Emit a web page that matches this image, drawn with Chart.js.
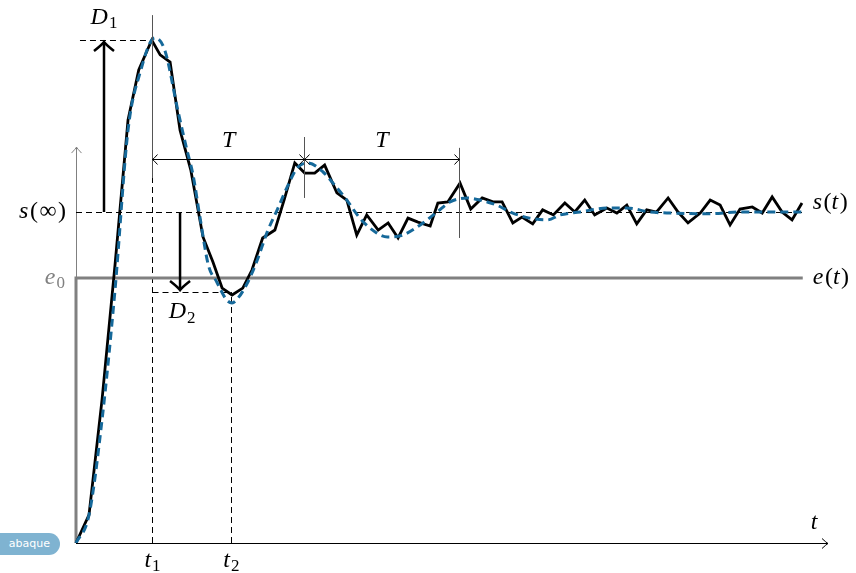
<!DOCTYPE html>
<html>
<head>
<meta charset="utf-8">
<script src="https://cdn.jsdelivr.net/npm/chart.js@4.4.1/dist/chart.umd.min.js"></script>
<style>
    html, body { margin: 0; padding: 0; background: #fff; overflow: hidden; }
    #wrap { position: relative; width: 856px; height: 573px; }
    .badge {
        position: absolute; left: -12px; top: 533px; width: 72px; height: 22px;
        box-sizing: border-box; padding-right: 10px; border-radius: 11px;
        background: #7fb3d1; color: #fff; text-align: right;
        font: 11px "DejaVu Sans", sans-serif; line-height: 22px;
    }
</style>
</head>
<body>
<div id="wrap">
    <canvas id="chart"></canvas>
    <div class="badge">abaque</div>
</div>
<script>
var sigT = [0, 0.17, 0.34, 0.51, 0.68, 0.82, 0.99, 1.10, 1.23, 1.36, 1.50, 1.66, 1.79, 1.91, 2.04,
    2.18, 2.30, 2.44, 2.60, 2.72, 2.86, 2.99, 3.12, 3.25, 3.41, 3.54, 3.67, 3.80, 3.95, 4.08,
    4.21, 4.34, 4.47, 4.63, 4.73, 4.86, 5.02, 5.16, 5.31, 5.45, 5.57, 5.71, 5.83, 5.97, 6.10,
    6.24, 6.39, 6.52, 6.65, 6.78, 6.94, 7.07, 7.20, 7.33, 7.46, 7.59, 7.74, 7.87, 8.00, 8.16,
    8.29, 8.42, 8.55, 8.68, 8.84, 8.97, 9.10, 9.23, 9.36, 9.49];
var sigV = [0, 0.106, 0.540, 1.049, 1.596, 1.785, 1.898, 1.842, 1.815, 1.558, 1.408, 1.155, 1.060, 0.962, 0.936,
    0.962, 1.030, 1.151, 1.181, 1.294, 1.434, 1.396, 1.396, 1.426, 1.321, 1.294, 1.162, 1.238, 1.181, 1.208,
    1.151, 1.226, 1.211, 1.196, 1.283, 1.287, 1.358, 1.260, 1.302, 1.287, 1.287, 1.208, 1.230, 1.204, 1.257,
    1.238, 1.283, 1.249, 1.294, 1.238, 1.264, 1.245, 1.275, 1.204, 1.257, 1.249, 1.302, 1.249, 1.208, 1.245,
    1.294, 1.275, 1.200, 1.260, 1.268, 1.245, 1.306, 1.249, 1.219, 1.283];

// second order model (blue dashed)
var modelT = [0, 0.17, 0.34, 0.51, 0.68, 0.84, 1.03, 1.16, 1.33, 1.45, 1.53, 1.62, 1.73, 1.84, 1.97,
    2.04, 2.12, 2.24, 2.37, 2.50, 2.63, 2.76, 2.89, 3.03, 3.23, 3.36, 3.54, 3.71, 3.93, 4.07,
    4.27, 4.50, 4.72, 4.89, 5.11, 5.28, 5.50, 5.71, 5.93, 6.16, 6.33, 6.59, 6.94, 7.20, 7.50,
    7.80, 8.25, 8.68, 9.11, 9.49];
var modelV = [0, 0.106, 0.464, 0.955, 1.558, 1.777, 1.906, 1.860, 1.634, 1.483, 1.389, 1.230, 1.049, 0.985, 0.917,
    0.906, 0.925, 0.981, 1.068, 1.174, 1.257, 1.343, 1.415, 1.434, 1.400, 1.358, 1.294, 1.226, 1.170, 1.155,
    1.162, 1.200, 1.249, 1.287, 1.302, 1.294, 1.275, 1.245, 1.226, 1.219, 1.238, 1.249, 1.264, 1.264, 1.249,
    1.245, 1.242, 1.249, 1.249, 1.249];

// input step e(t)
var stepT = [0, 0, 9.50];
var stepV = [0, 1, 1];

// reading marks
var E0 = 1;
var S_INF = 1.249;
var T_END = 9.50;
var T1 = 1.0;
var T2 = 2.03;
var PEAK2 = 2.99;
var PEAK3 = 5.01;
var D1_LEVEL = 1.898;
var D2_LEVEL = 0.947;
var D1_AT = 0.366;
var D2_AT = 1.36;
var T_LEVEL = 1.449;
var XAXIS_END = 9.83;
var YAXIS_TOP = 1.494;

function pts(ts, vs) {
    return ts.map(function (t, i) { return { x: t, y: vs[i] }; });
}

// thin lines snapped to the pixel grid so they stay crisp
function snap(v) { return Math.round(v - 0.5) + 0.5; }

function line(ctx, x1, y1, x2, y2) {
    if (ctx.lineWidth <= 1) {
        if (x1 === x2) { x1 = x2 = snap(x1); }
        if (y1 === y2) { y1 = y2 = snap(y1); }
    }
    ctx.beginPath();
    ctx.moveTo(x1, y1);
    ctx.lineTo(x2, y2);
    ctx.stroke();
}

// tikz-like "to" arrow head, tip at (x,y), pointing along angle a
function head(ctx, x, y, a, len, half) {
    ctx.save();
    ctx.translate(x, y);
    ctx.rotate(a);
    ctx.setLineDash([]);
    ctx.beginPath();
    ctx.moveTo(-len, -half);
    ctx.quadraticCurveTo(-len * 0.25, -half * 0.15, 0, 0);
    ctx.quadraticCurveTo(-len * 0.25, half * 0.15, -len, half);
    ctx.stroke();
    ctx.restore();
}

function mathText(ctx, parts, x, y, align, color) {
    var size = 24;
    var font = function (k) {
        if (k === 'i') return 'italic ' + size + 'px "Liberation Serif"';
        if (k === 's') return Math.round(size * 0.7) + 'px "Liberation Serif"';
        return size + 'px "Liberation Serif"';
    };
    var gap = function (k) { return k === 's' ? 1 : k === 'r' ? 1.5 : 0; };
    var w = 0;
    parts.forEach(function (p) { ctx.font = font(p[1]); w += ctx.measureText(p[0]).width + gap(p[1]); });
    var cx = align === 'right' ? x - w : align === 'center' ? x - w / 2 : x;
    ctx.fillStyle = color || '#000';
    ctx.textBaseline = 'middle';
    ctx.textAlign = 'left';
    parts.forEach(function (p) {
        ctx.font = font(p[1]);
        cx += gap(p[1]);
        ctx.fillText(p[0], cx, p[1] === 's' ? y + 6 : y);
        cx += ctx.measureText(p[0]).width;
    });
}

var guides = {
    id: 'guides',
    beforeDatasetsDraw: function (chart) {
        var ctx = chart.ctx, x = chart.scales.x, y = chart.scales.y;
        var X = function (v) { return x.getPixelForValue(v); };
        var Y = function (v) { return y.getPixelForValue(v); };
        ctx.save();
        // thin gray vertical axis
        ctx.strokeStyle = '#808080';
        ctx.lineWidth = 1;
        line(ctx, X(0), Y(0), X(0), Y(YAXIS_TOP));
        head(ctx, snap(X(0)), Y(YAXIS_TOP), -Math.PI / 2, 6, 5);

        // dashed reading lines
        ctx.strokeStyle = '#000';
        ctx.setLineDash([6, 4]);
        line(ctx, X(0), Y(S_INF), X(T_END), Y(S_INF));
        line(ctx, X(T1), Y(0), X(T1), Y(D1_LEVEL));
        line(ctx, X(0.052), Y(D1_LEVEL), X(T1), Y(D1_LEVEL));
        line(ctx, X(T1), Y(D2_LEVEL), X(T2), Y(D2_LEVEL));
        line(ctx, X(T2), Y(0), X(T2), Y(D2_LEVEL));
        ctx.restore();
    },
    afterDatasetsDraw: function (chart) {
        var ctx = chart.ctx, x = chart.scales.x, y = chart.scales.y;
        var X = function (v) { return x.getPixelForValue(v); };
        var Y = function (v) { return y.getPixelForValue(v); };
        ctx.save();

        // time axis
        ctx.strokeStyle = '#000';
        ctx.lineWidth = 1;
        line(ctx, X(0), Y(0), X(XAXIS_END), Y(0));
        head(ctx, X(XAXIS_END), snap(Y(0)), 0, 6, 5);

        // period marks
        ctx.strokeStyle = '#555';
        line(ctx, X(T1), Y(1.992), X(T1), Y(1.377));
        line(ctx, X(PEAK2), Y(1.532), X(PEAK2), Y(1.302));
        line(ctx, X(PEAK3), Y(1.491), X(PEAK3), Y(1.151));
        ctx.strokeStyle = '#000';
        line(ctx, X(T1), Y(T_LEVEL), X(PEAK3), Y(T_LEVEL));
        var ty = snap(Y(T_LEVEL));
        head(ctx, snap(X(T1)), ty, Math.PI, 5, 5);
        head(ctx, snap(X(PEAK2)), ty, 0, 5, 5);
        head(ctx, snap(X(PEAK2)), ty, Math.PI, 5, 5);
        head(ctx, snap(X(PEAK3)), ty, 0, 5, 5);

        // overshoot arrows
        ctx.lineWidth = 2.5;
        line(ctx, X(D1_AT), Y(S_INF), X(D1_AT), Y(D1_LEVEL) + 2);
        head(ctx, X(D1_AT), Y(D1_LEVEL) + 2, -Math.PI / 2, 9, 10);
        line(ctx, X(D2_AT), Y(S_INF), X(D2_AT), Y(D2_LEVEL) - 2);
        head(ctx, X(D2_AT), Y(D2_LEVEL) - 2, Math.PI / 2, 9, 10);

        // labels
        mathText(ctx, [['D', 'i'], ['1', 's']], X(D1_AT), Y(D1_LEVEL) - 22, 'center');
        mathText(ctx, [['D', 'i'], ['2', 's']], X(D2_AT) + 2, Y(D2_LEVEL) + 20, 'center');
        mathText(ctx, [['T', 'i']], (X(T1) + X(PEAK2)) / 2, Y(T_LEVEL) - 18, 'center');
        mathText(ctx, [['T', 'i']], (X(PEAK2) + X(PEAK3)) / 2, Y(T_LEVEL) - 18, 'center');
        mathText(ctx, [['s', 'i'], ['(', 'r'], ['\u221E', 'r'], [')', 'r']], X(0) - 10, Y(S_INF), 'right');
        mathText(ctx, [['e', 'i'], ['0', 's']], X(0) - 11, Y(E0), 'right', '#808080');
        mathText(ctx, [['s', 'i'], ['(', 'r'], ['t', 'i'], [')', 'r']], X(T_END) + 10, Y(sigV[sigV.length - 1]), 'left');
        mathText(ctx, [['e', 'i'], ['(', 'r'], ['t', 'i'], [')', 'r']], X(T_END) + 10, Y(E0), 'left');
        mathText(ctx, [['t', 'i']], X(XAXIS_END) - 14, Y(0) - 20, 'center');
        mathText(ctx, [['t', 'i'], ['1', 's']], X(T1), Y(0) + 18, 'center');
        mathText(ctx, [['t', 'i'], ['2', 's']], X(T2), Y(0) + 18, 'center');
        ctx.restore();
    }
};

var canvas = document.getElementById('chart');
new Chart(canvas.getContext('2d'), {
    type: 'line',
    data: {
        datasets: [{
            label: 'model',
            data: pts(modelT, modelV),
            borderColor: '#16699a',
            borderWidth: 3,
            borderDash: [8, 5],
            tension: 0.4,
            cubicInterpolationMode: 'monotone',
            pointRadius: 0,
            fill: false
        }, {
            label: 's(t)',
            data: pts(sigT, sigV),
            borderColor: '#000',
            borderWidth: 2.8,
            borderJoinStyle: 'miter',
            tension: 0,
            pointRadius: 0,
            fill: false
        }, {
            label: 'e(t)',
            data: pts(stepT, stepV),
            borderColor: '#808080',
            borderWidth: 3,
            tension: 0,
            pointRadius: 0,
            fill: false
        }]
    },
    options: {
        responsive: true,
        maintainAspectRatio: false,
        animation: false,
        events: [],
        layout: { padding: 0, autoPadding: false },
        plugins: { legend: { display: false }, tooltip: { enabled: false } },
        scales: {
            x: { type: 'linear', min: -0.9935, max: 10.196, display: false },
            y: { type: 'linear', min: -0.1132, max: 2.049, display: false }
        }
    },
    plugins: [guides]
});
</script>
</body>
</html>
